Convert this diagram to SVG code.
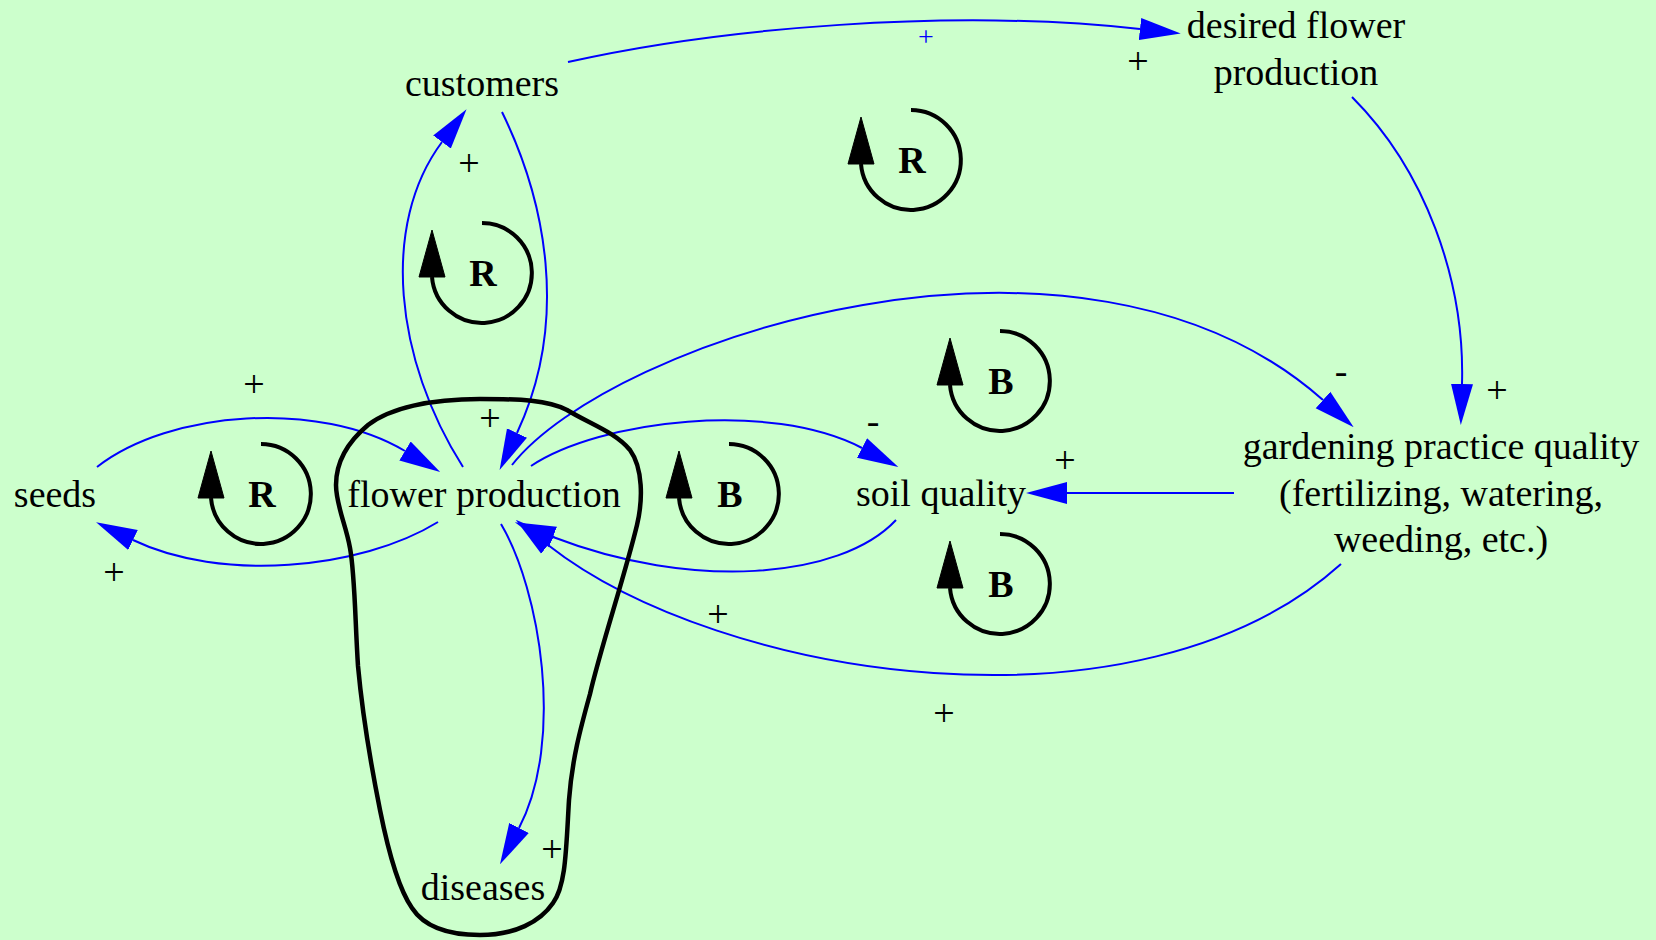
<svg xmlns="http://www.w3.org/2000/svg" width="1656" height="940" viewBox="0 0 1656 940">
<defs>
<style>
.nl{font-family:"Liberation Serif","Times New Roman",serif;font-size:38px;text-anchor:middle;fill:#000}
.el{font-family:"Liberation Serif","Times New Roman",serif;font-size:38px;text-anchor:middle;fill:#000}
.elb{font-family:"Liberation Serif","Times New Roman",serif;font-size:28px;text-anchor:middle;fill:#0000ff}
.edge{fill:none;stroke:#0000ff;stroke-width:2}
.loop text{font-family:"Liberation Serif","Times New Roman",serif;font-size:38px;font-weight:bold;text-anchor:middle;fill:#000}
</style>
<marker id="ah" markerUnits="userSpaceOnUse" markerWidth="41" markerHeight="24" viewBox="0 0 41 24" refX="0" refY="12" orient="auto">
<path d="M0,1 L41,12 L0,23 z" fill="#0000ff"/>
</marker>
<g id="loopShape">
<path d="M0,-50 A50,50 0 1 1 -50,4" fill="none" stroke="#000" stroke-width="4"/>
<polygon points="-63,4 -37,4 -50,-43" fill="#000" stroke="#000" stroke-width="1"/>
</g>
</defs>
<rect x="0" y="0" width="1656" height="940" fill="#ccffcc"/>

<g id="connectors">
<path class="edge" d="M568,62 C720,28 950,8 1140,29" marker-end="url(#ah)"/>
<path class="edge" d="M1352,97 C1425,170 1465,280 1462,384" marker-end="url(#ah)"/>
<path class="edge" d="M512,465 C610,340 1080,185 1323,400" marker-end="url(#ah)"/>
<path class="edge" d="M531,466 C600,420 770,400 862,448" marker-end="url(#ah)"/>
<path class="edge" d="M1234,493 L1067,493" marker-end="url(#ah)"/>
<path class="edge" d="M896,520 C840,580 690,590 553,537" marker-end="url(#ah)"/>
<path class="edge" d="M1341,564 C1140,745 720,680 548,545" marker-end="url(#ah)"/>
<path class="edge" d="M501,524 C540,590 565,740 519,828" marker-end="url(#ah)"/>
<path class="edge" d="M463,467 C395,360 380,225 442,142" marker-end="url(#ah)"/>
<path class="edge" d="M502,112 C545,200 570,320 517,433" marker-end="url(#ah)"/>
<path class="edge" d="M97,467 C170,410 320,400 405,451" marker-end="url(#ah)"/>
<path class="edge" d="M438,522 C360,570 220,582 133,540" marker-end="url(#ah)"/>
</g>

<g id="edge-labels">
<text class="elb" x="926" y="46">+</text>
<text class="el" x="1138" y="74">+</text>
<text class="el" x="1497" y="403">+</text>
<text class="el" x="1341" y="384">-</text>
<text class="el" x="873" y="434">-</text>
<text class="el" x="1065" y="473">+</text>
<text class="el" x="718" y="627">+</text>
<text class="el" x="944" y="726">+</text>
<text class="el" x="552" y="862">+</text>
<text class="el" x="469" y="176">+</text>
<text class="el" x="490" y="431">+</text>
<text class="el" x="254" y="397">+</text>
<text class="el" x="114" y="585">+</text>
</g>

<g id="cluster-outline">
<path d="M480,399 C520,399 548,400 567,410 C590,424 615,432 630,450 C643,468 643,500 637,525 C625,575 600,650 590,694 C580,730 572,760 569,800 C566,850 566,885 553,903 C540,922 515,935 480,935 C450,935 425,928 412,908 C398,888 388,850 380,810 C370,760 362,710 358,666 C355,620 355,575 350,548 C346,525 336,505 336,485 C336,460 350,440 368,425 C390,408 430,399 480,399 Z" fill="none" stroke="#000" stroke-width="4.5"/>
</g>

<g id="loops">
<g id="loop-r1" class="loop" transform="translate(482,273)"><use href="#loopShape"/><text x="1" y="13">R</text></g>
<g id="loop-r2" class="loop" transform="translate(911,160)"><use href="#loopShape"/><text x="1" y="13">R</text></g>
<g id="loop-r3" class="loop" transform="translate(261,494)"><use href="#loopShape"/><text x="1" y="13">R</text></g>
<g id="loop-b1" class="loop" transform="translate(729,494)"><use href="#loopShape"/><text x="1" y="13">B</text></g>
<g id="loop-b2" class="loop" transform="translate(1000,381)"><use href="#loopShape"/><text x="1" y="13">B</text></g>
<g id="loop-b3" class="loop" transform="translate(1000,584)"><use href="#loopShape"/><text x="1" y="13">B</text></g>
</g>

<g id="node-customers"><text class="nl" x="482" y="96">customers</text></g>
<g id="node-desired"><text class="nl" x="1296" y="38">desired flower</text><text class="nl" x="1296" y="85">production</text></g>
<g id="node-seeds"><text class="nl" x="55" y="507">seeds</text></g>
<g id="node-flower"><text class="nl" x="484" y="507">flower production</text></g>
<g id="node-soil"><text class="nl" x="941" y="506">soil quality</text></g>
<g id="node-gardening"><text class="nl" x="1441" y="459">gardening practice quality</text><text class="nl" x="1441" y="506">(fertilizing, watering,</text><text class="nl" x="1441" y="552">weeding, etc.)</text></g>
<g id="node-diseases"><text class="nl" x="483" y="900">diseases</text></g>
</svg>
